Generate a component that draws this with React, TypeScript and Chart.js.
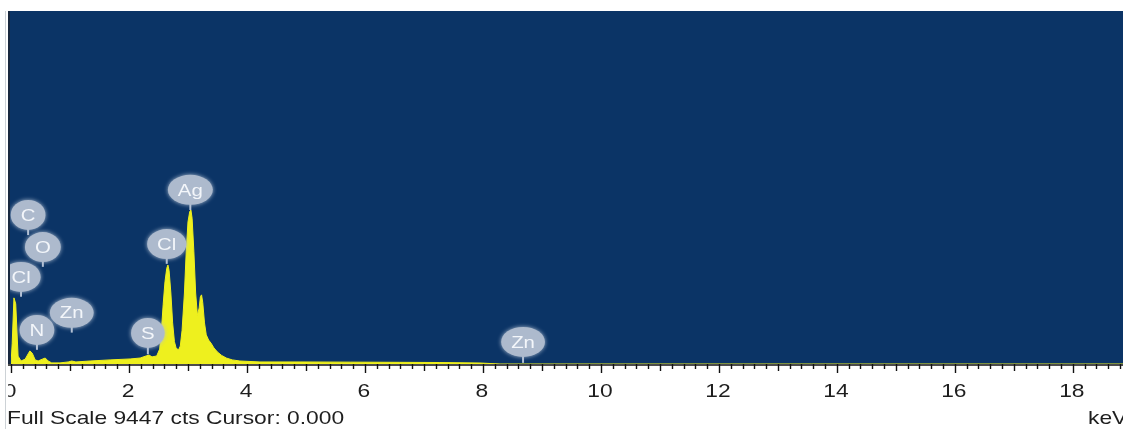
import { useEffect, useRef } from 'react';
import { Chart, registerables } from 'chart.js';

Chart.register(...registerables);

// EDS spectrum: energy (keV) vs counts
const energyKeV = [
  0.0, 0.02, 0.05, 0.08, 0.12, 0.17, 0.24, 0.29, 0.32, 0.36, 0.41, 0.46, 0.53, 0.58, 0.63, 0.69,
  0.83, 0.97, 1.03, 1.1, 1.34, 1.68, 2.02, 2.19, 2.29, 2.34, 2.39, 2.47, 2.52, 2.55, 2.58, 2.61,
  2.64, 2.66, 2.68, 2.71, 2.74, 2.77, 2.8, 2.84, 2.87, 2.9, 2.94, 2.97, 3.0, 3.03, 3.05, 3.07,
  3.1, 3.13, 3.16, 3.19, 3.21, 3.23, 3.25, 3.28, 3.31, 3.35, 3.39, 3.44, 3.5, 3.57, 3.65, 3.75,
  3.88, 4.22, 4.9, 5.75, 6.59, 7.27, 7.95, 8.12, 8.29, 18.85,
];
const counts = [
  0, 540, 1770, 1610, 210, 80, 130, 270, 350, 290, 110, 80, 130, 160, 80, 30,
  30, 55, 80, 55, 80, 110, 135, 160, 215, 240, 190, 215, 400, 900, 1600, 2200,
  2560, 2650, 2500, 1900, 1100, 600, 420, 380, 480, 900, 1900, 3000, 3800, 4080, 4120, 3900,
  3000, 1900, 1300, 1500, 1800, 1850, 1650, 1100, 780, 640, 560, 430, 320, 230, 160, 110,
  80, 55, 55, 50, 45, 40, 27, 13, 0, 0,
];

const fullScaleCts = 9447;
const maxKeV = 18.85;
const axisLabelsKeV = [0, 2, 4, 6, 8, 10, 12, 14, 16, 18];

// Element markers: name, energy, marker height (cts), stem end (cts)
const peakNames = ['Cl', 'C', 'O', 'N', 'Zn', 'S', 'Cl', 'Ag', 'Zn'];
const peakEnergies = [0.17, 0.29, 0.54, 0.44, 1.03, 2.32, 2.64, 3.04, 8.68];
const peakLabelCounts = [2330, 3990, 3130, 910, 1370, 830, 3210, 4660, 590];
const peakStemCounts = [1800, 3450, 2600, 380, 840, 260, 2680, 4120, 30];

const footerText = 'Full Scale 9447 cts Cursor: 0.000';
const unitText = 'keV';

const FONT = '"Liberation Sans", Arial, sans-serif';
const TEXT_STRETCH = 1.2;

function stretchedText(ctx: CanvasRenderingContext2D, text: string, x: number, y: number, align: CanvasTextAlign) {
  ctx.save();
  ctx.translate(x, y);
  ctx.scale(TEXT_STRETCH, 1);
  ctx.textAlign = align;
  ctx.fillText(text, 0, 0);
  ctx.restore();
}

const spectrumFrame = {
  id: 'spectrumFrame',
  beforeDraw(chart: any) {
    const { ctx, chartArea: a } = chart;
    ctx.save();
    ctx.fillStyle = '#ffffff';
    ctx.fillRect(0, 0, chart.width, chart.height);
    ctx.fillStyle = '#0b3466';
    ctx.fillRect(a.left - 3, a.top, a.right - a.left + 3, a.bottom - a.top);
    ctx.fillStyle = '#18283f';
    ctx.fillRect(a.left - 3, a.top, 2, a.bottom - a.top);
    ctx.restore();
  },
  afterDatasetsDraw(chart: any) {
    const { ctx, chartArea: a } = chart;
    const xs = chart.scales.x;
    const ys = chart.scales.y;
    ctx.save();
    ctx.beginPath();
    ctx.rect(a.left - 1, a.top, a.right - a.left + 1, a.bottom - a.top);
    ctx.clip();
    ctx.font = `17px ${FONT}`;
    ctx.textBaseline = 'middle';
    peakNames.forEach((name, i) => {
      const x = xs.getPixelForValue(peakEnergies[i]);
      const y = ys.getPixelForValue(peakLabelCounts[i]);
      const yEnd = ys.getPixelForValue(peakStemCounts[i]);
      const tw = ctx.measureText(name).width * TEXT_STRETCH;
      const rx = Math.max(16, tw / 2 + 10);
      const ry = 15;
      ctx.strokeStyle = '#b3c1d5';
      ctx.lineWidth = 2;
      ctx.beginPath();
      ctx.moveTo(x, y + ry - 2);
      ctx.lineTo(x, yEnd);
      ctx.stroke();
      ctx.fillStyle = '#adbacd';
      ctx.shadowColor = 'rgba(180,194,212,0.95)';
      ctx.shadowBlur = 4;
      ctx.beginPath();
      ctx.ellipse(x, y, rx, ry, 0, 0, Math.PI * 2);
      ctx.fill();
      ctx.shadowBlur = 0;
      ctx.fillStyle = '#f3f6fa';
      stretchedText(ctx, name, x, y + 1, 'center');
    });
    ctx.restore();
  },
  afterDraw(chart: any) {
    const { ctx, chartArea: a } = chart;
    const xs = chart.scales.x;
    ctx.save();
    // baseline and tick marks every 0.2 keV
    ctx.strokeStyle = '#111111';
    ctx.lineWidth = 1.5;
    ctx.beginPath();
    ctx.moveTo(a.left - 3, a.bottom + 1);
    ctx.lineTo(a.right, a.bottom + 1);
    ctx.stroke();
    const steps = Math.floor(maxKeV * 5 + 1e-6);
    ctx.lineWidth = 1.4;
    for (let i = 0; i <= steps; i++) {
      const x = Math.round(xs.getPixelForValue(i / 5)) + 0.5;
      const len = i % 10 === 0 ? 9 : i % 5 === 0 ? 7 : 5;
      ctx.beginPath();
      ctx.moveTo(x, a.bottom);
      ctx.lineTo(x, a.bottom + len);
      ctx.stroke();
    }
    // axis numbers
    ctx.fillStyle = '#1e1e1e';
    ctx.font = `19px ${FONT}`;
    ctx.textBaseline = 'alphabetic';
    ctx.save();
    ctx.beginPath();
    ctx.rect(8, 0, chart.width - 8, chart.height);
    ctx.clip();
    axisLabelsKeV.forEach((v) => {
      stretchedText(ctx, String(v), xs.getPixelForValue(v) - 1, a.bottom + 33, 'center');
    });
    ctx.restore();
    // footer
    stretchedText(ctx, footerText, 7, chart.height - 5, 'left');
    stretchedText(ctx, unitText, 1088, chart.height - 5, 'left');
    // left edge line
    ctx.strokeStyle = '#cdd2d6';
    ctx.lineWidth = 1;
    ctx.beginPath();
    ctx.moveTo(5.5, a.top);
    ctx.lineTo(5.5, chart.height);
    ctx.stroke();
    ctx.restore();
  },
};

export default function App() {
  const canvasRef = useRef<HTMLCanvasElement | null>(null);

  useEffect(() => {
    const canvas = canvasRef.current;
    if (!canvas) return;
    const chart = new Chart(canvas, {
      type: 'line',
      data: {
        datasets: [
          {
            data: energyKeV.map((e, i) => ({ x: e, y: counts[i] })),
            borderColor: '#f0f01c',
            backgroundColor: '#eef01e',
            borderWidth: 1,
            fill: 'origin',
            pointRadius: 0,
            tension: 0,
          },
        ],
      },
      options: {
        animation: false,
        responsive: false,
        devicePixelRatio: 1,
        events: [],
        layout: { padding: { left: 11, top: 11, right: 0, bottom: 65 } },
        scales: {
          x: { type: 'linear', min: 0, max: maxKeV, display: false },
          y: { type: 'linear', min: 0, max: fullScaleCts, display: false },
        },
        plugins: {
          legend: { display: false },
          tooltip: { enabled: false },
        },
      },
      plugins: [spectrumFrame],
    });
    return () => chart.destroy();
  }, []);

  return (
    <div style={{ position: 'absolute', left: 0, top: 0, width: 1123, height: 429, background: '#fff' }}>
      <canvas ref={canvasRef} width={1123} height={429} style={{ display: 'block', width: 1123, height: 429 }} />
    </div>
  );
}
